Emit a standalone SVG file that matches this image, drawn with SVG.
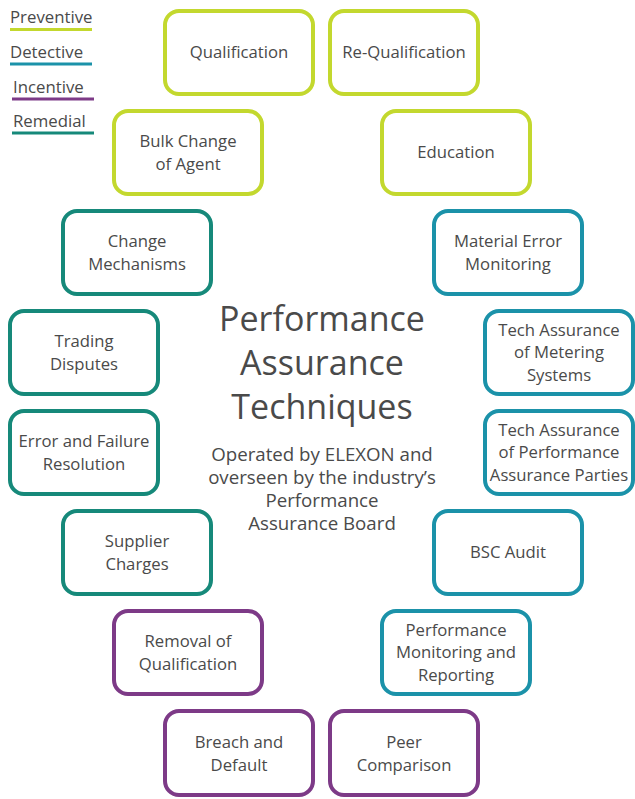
<svg xmlns="http://www.w3.org/2000/svg" width="635" height="799" viewBox="0 0 635 799">
<style>
.box{fill:#fff;stroke-width:4}
.p{stroke:#c3d82e}
.d{stroke:#1b92a9}
.i{stroke:#7d3a87}
.r{stroke:#16897a}
text{font-family:"Open Sans","Noto Sans",sans-serif;fill:#4a4a4a}
.t{font-size:16.7px;text-anchor:middle}
.lg{font-size:16.8px}
.title{font-size:34px;text-anchor:middle}
.sub{font-size:18.7px;text-anchor:middle}
.ul{stroke-width:3;fill:none}
</style>
<rect width="635" height="799" fill="#fff"/>
<g id="legend">
<text class="lg" x="10" y="23">Preventive</text>
<line class="ul p" x1="10" y1="29.5" x2="92" y2="29.5"/>
<text class="lg" x="10" y="58">Detective</text>
<line class="ul d" x1="10" y1="64" x2="92" y2="64"/>
<text class="lg" x="13" y="93">Incentive</text>
<line class="ul i" x1="12" y1="99" x2="94" y2="99"/>
<text class="lg" x="13" y="127">Remedial</text>
<line class="ul r" x1="12" y1="133" x2="94" y2="133"/>
</g>
<g id="center">
<text class="title" x="322" y="331">Performance</text>
<text class="title" x="322" y="375">Assurance</text>
<text class="title" x="322" y="419">Techniques</text>
<text class="sub" x="322" y="461">Operated by ELEXON and</text>
<text class="sub" x="322" y="484">overseen by the industry’s</text>
<text class="sub" x="322" y="507">Performance</text>
<text class="sub" x="322" y="530">Assurance Board</text>
</g>
<g id="n-qualification"><rect class="box p" x="165" y="11" width="148" height="83" rx="14"/><text class="t" x="239" y="58">Qualification</text></g>
<g id="n-requalification"><rect class="box p" x="330" y="11" width="148" height="83" rx="14"/><text class="t" x="404" y="58">Re-Qualification</text></g>
<g id="n-bulk"><rect class="box p" x="114" y="111" width="148" height="83" rx="14"/><text class="t" x="188" y="147">Bulk Change</text><text class="t" x="188" y="170">of Agent</text></g>
<g id="n-education"><rect class="box p" x="382" y="111" width="148" height="83" rx="14"/><text class="t" x="456" y="158">Education</text></g>
<g id="n-change"><rect class="box r" x="63" y="211" width="148" height="83" rx="14"/><text class="t" x="137" y="247">Change</text><text class="t" x="137" y="270">Mechanisms</text></g>
<g id="n-material"><rect class="box d" x="434" y="211" width="148" height="83" rx="14"/><text class="t" x="508" y="247">Material Error</text><text class="t" x="508" y="270">Monitoring</text></g>
<g id="n-trading"><rect class="box r" x="10" y="311" width="148" height="83" rx="14"/><text class="t" x="84" y="347">Trading</text><text class="t" x="84" y="370">Disputes</text></g>
<g id="n-techmeter"><rect class="box d" x="485" y="311" width="148" height="83" rx="14"/><text class="t" x="559" y="336">Tech Assurance</text><text class="t" x="559" y="358">of Metering</text><text class="t" x="559" y="381">Systems</text></g>
<g id="n-error"><rect class="box r" x="10" y="411" width="148" height="83" rx="14"/><text class="t" x="84" y="447">Error and Failure</text><text class="t" x="84" y="470">Resolution</text></g>
<g id="n-techperf"><rect class="box d" x="485" y="411" width="148" height="83" rx="14"/><text class="t" x="559" y="436">Tech Assurance</text><text class="t" x="559" y="458">of Performance</text><text class="t" x="559" y="481">Assurance Parties</text></g>
<g id="n-supplier"><rect class="box r" x="63" y="511" width="148" height="83" rx="14"/><text class="t" x="137" y="547">Supplier</text><text class="t" x="137" y="570">Charges</text></g>
<g id="n-bsc"><rect class="box d" x="434" y="511" width="148" height="83" rx="14"/><text class="t" x="508" y="558">BSC Audit</text></g>
<g id="n-removal"><rect class="box i" x="114" y="611" width="148" height="83" rx="14"/><text class="t" x="188" y="647">Removal of</text><text class="t" x="188" y="670">Qualification</text></g>
<g id="n-perfmon"><rect class="box d" x="382" y="611" width="148" height="83" rx="14"/><text class="t" x="456" y="636">Performance</text><text class="t" x="456" y="658">Monitoring and</text><text class="t" x="456" y="681">Reporting</text></g>
<g id="n-breach"><rect class="box i" x="165" y="711" width="148" height="84" rx="14"/><text class="t" x="239" y="748">Breach and</text><text class="t" x="239" y="771">Default</text></g>
<g id="n-peer"><rect class="box i" x="330" y="711" width="148" height="84" rx="14"/><text class="t" x="404" y="748">Peer</text><text class="t" x="404" y="771">Comparison</text></g>
<g id="connectors"></g>
</svg>
